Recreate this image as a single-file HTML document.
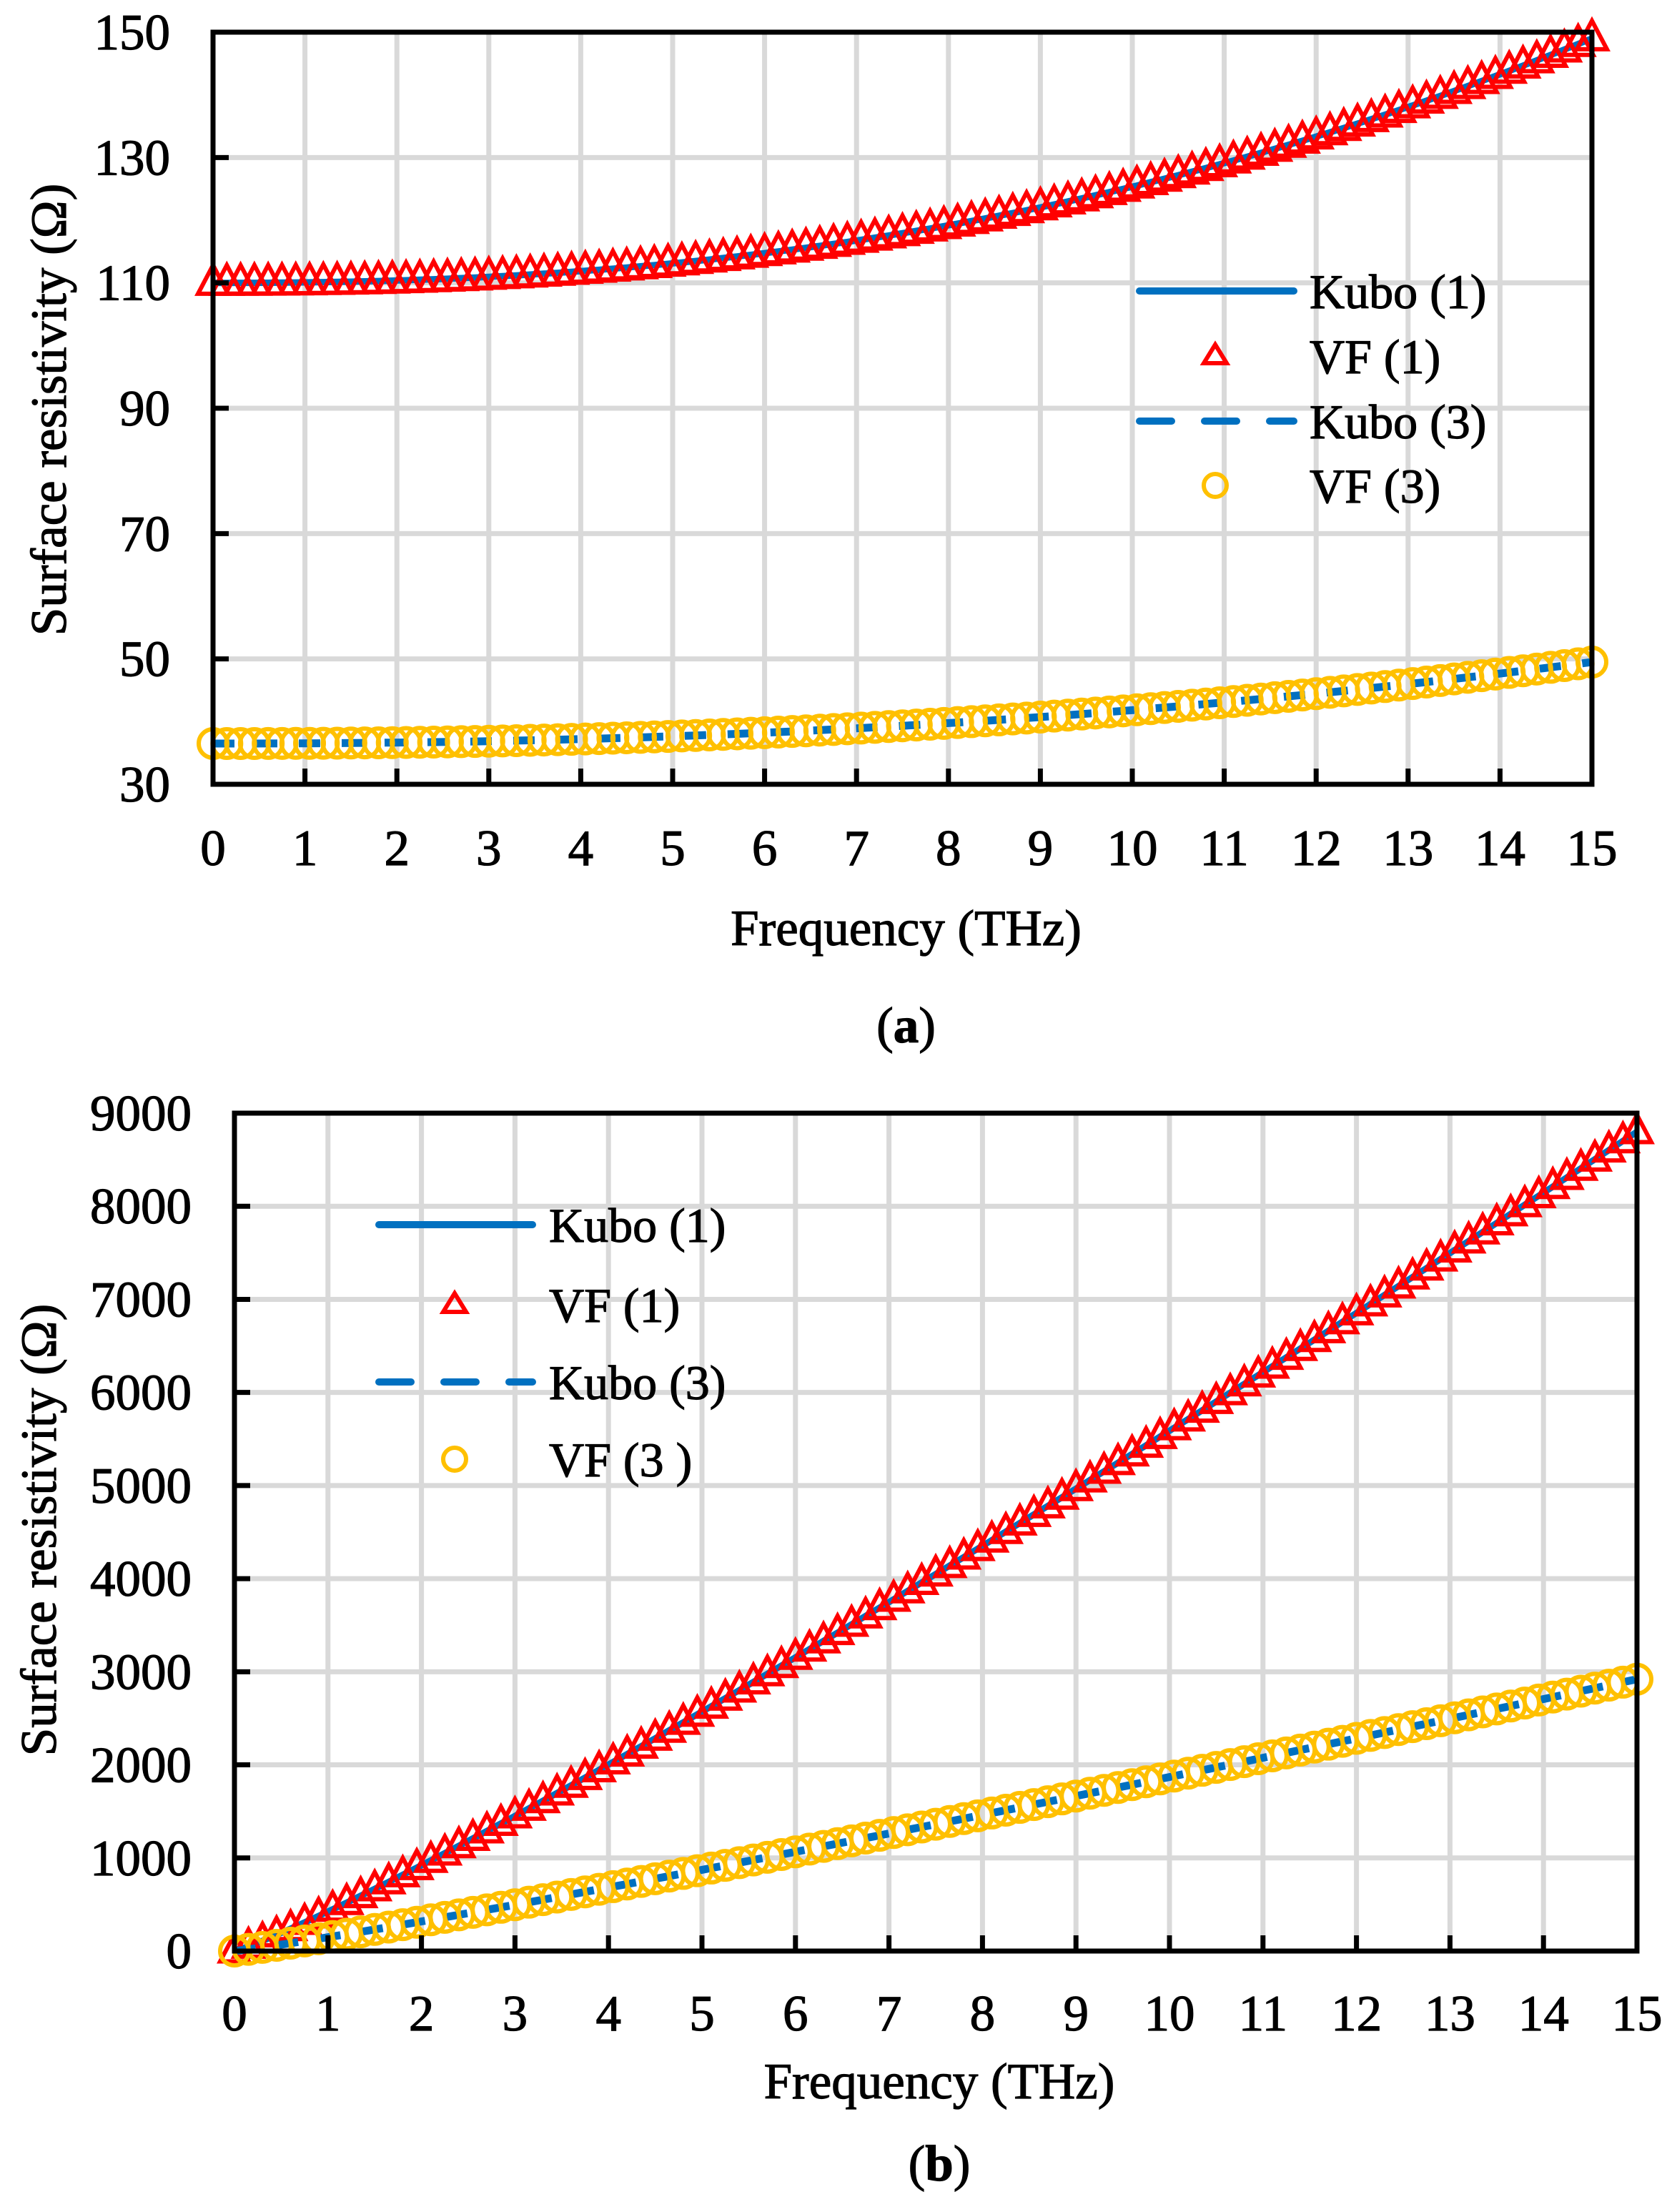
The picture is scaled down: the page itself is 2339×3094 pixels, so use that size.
<!DOCTYPE html>
<html><head><meta charset="utf-8"><style>
html,body{margin:0;padding:0;background:#fff;}
svg{display:block;}
text{font-family:"Liberation Serif","Times New Roman",serif;}
</style></head><body>
<svg id="s" width="2339" height="3094" xmlns="http://www.w3.org/2000/svg"></svg>
<script>
const S=document.getElementById('s');let h='';
const FF='style="font-family:\'Liberation Serif\',serif" stroke="#000" stroke-width="1.2"';
function chart(o){
 const {L,R,T,B,ymin,ymax,ystep,yl,xlabY,titleY,capY,cap,ytX,ytY,leg}=o;
 const X=f=>L+(R-L)*f/15, Y=v=>B-(B-T)*(v-ymin)/(ymax-ymin);
 for(let i=1;i<=15;i++) h+=`<line x1="${X(i)}" y1="${T}" x2="${X(i)}" y2="${B}" stroke="#D9D9D9" stroke-width="7"/>`;
 for(let v=ymin+ystep;v<ymax+1e-6;v+=ystep) h+=`<line x1="${L}" y1="${Y(v)}" x2="${R}" y2="${Y(v)}" stroke="#D9D9D9" stroke-width="7"/>`;
 o.series.forEach(s=>{
  let pts=[];for(let i=0;i<=100;i++){const f=i*0.15;pts.push([X(f),Y(s.fn(f))]);}
  const d='M'+pts.map(p=>p[0].toFixed(1)+','+p[1].toFixed(1)).join('L');
  if(s.type=='tri'){pts.forEach(p=>{const w=s.sz,hh=s.sz*0.95;h+=`<path d="M${p[0]},${p[1]-hh*0.62}L${p[0]+w/2},${p[1]+hh*0.38}L${p[0]-w/2},${p[1]+hh*0.38}Z" fill="none" stroke="#FF0000" stroke-width="6"/>`;});}
  if(s.type=='circ'){pts.forEach(p=>{h+=`<circle cx="${p[0]}" cy="${p[1]}" r="${s.sz}" fill="none" stroke="#FFC000" stroke-width="6"/>`;});}
  if(s.type=='solid') h+=`<path d="${d}" fill="none" stroke="#0070C0" stroke-width="9"/>`;
  if(s.type=='dash') h+=`<path d="${d}" fill="none" stroke="#0070C0" stroke-width="11" stroke-dasharray="30 30"/>`;
 });
 h+=`<rect x="${L}" y="${T}" width="${R-L}" height="${B-T}" fill="none" stroke="#000" stroke-width="7"/>`;
 for(let i=1;i<15;i++) h+=`<line x1="${X(i)}" y1="${B}" x2="${X(i)}" y2="${B-22}" stroke="#000" stroke-width="7"/>`;
 for(let v=ymin+ystep;v<ymax-1e-6;v+=ystep) h+=`<line x1="${L}" y1="${Y(v)}" x2="${L+22}" y2="${Y(v)}" stroke="#000" stroke-width="7"/>`;
 for(let v=ymin;v<=ymax+1e-6;v+=ystep) h+=`<text ${FF} x="${yl}" y="${Y(v)+24}" font-size="71" text-anchor="end">${v}</text>`;
 for(let i=0;i<=15;i++) h+=`<text ${FF} x="${X(i)}" y="${xlabY}" font-size="71" text-anchor="middle">${i}</text>`;
 h+=`<text ${FF} x="${(L+R)/2+5}" y="${titleY}" font-size="71" text-anchor="middle">Frequency (THz)</text>`;
 h+=`<text ${FF} x="${(L+R)/2+5}" y="${capY}" font-size="71" text-anchor="middle">(<tspan font-weight="bold">${cap}</tspan>)</text>`;
 h+=`<text ${FF} transform="translate(${ytX},${ytY}) rotate(-90)" font-size="71" text-anchor="middle">Surface resistivity (Ω)</text>`;
 const [lx1,lx2,mx,tx,rows]=leg;
 h+=`<line x1="${lx1}" y1="${rows[0]}" x2="${lx2}" y2="${rows[0]}" stroke="#0070C0" stroke-width="10" stroke-linecap="round"/>`;
 h+=`<path d="M${mx},${rows[1]-16}L${mx+16},${rows[1]+10}L${mx-16},${rows[1]+10}Z" fill="none" stroke="#FF0000" stroke-width="6"/>`;
 h+=`<line x1="${lx1}" y1="${rows[2]}" x2="${lx2}" y2="${rows[2]}" stroke="#0070C0" stroke-width="10" stroke-linecap="round" stroke-dasharray="45 46"/>`;
 h+=`<circle cx="${mx}" cy="${rows[3]}" r="16" fill="none" stroke="#FFC000" stroke-width="6"/>`;
 rows.forEach((r,i)=>{h+=`<text ${FF} x="${tx}" y="${r+24}" font-size="68">${o.labs[i]}</text>`;});
}
chart({L:298,R:2227,T:45,B:1097,ymin:30,ymax:150,ystep:20,yl:238,xlabY:1210,titleY:1322,capY:1458,cap:'a',ytX:92,ytY:573,
 leg:[1594,1810,1700,1832,[407,498,589,679]],labs:['Kubo (1)','VF (1)','Kubo (3)','VF (3)'],
 series:[
  {type:'solid',fn:f=>110+39*Math.pow(f/15,2.3)},
  {type:'tri',sz:42,fn:f=>110+39*Math.pow(f/15,2.3)},
  {type:'dash',fn:f=>36.5+13*Math.pow(f/15,2.2)},
  {type:'circ',sz:20,fn:f=>36.5+13*Math.pow(f/15,2.2)}]});
chart({L:328,R:2290,T:1557,B:2729,ymin:0,ymax:9000,ystep:1000,yl:268,xlabY:2840,titleY:2935,capY:3050,cap:'b',ytX:78,ytY:2140,
 leg:[530,745,636,768,[1713,1825,1933,2041]],labs:['Kubo (1)','VF (1)','Kubo (3)','VF (3 )'],
 series:[
  {type:'solid',fn:f=>8800*Math.pow(f/15,1.12)},
  {type:'tri',sz:40,fn:f=>8800*Math.pow(f/15,1.12)},
  {type:'dash',fn:f=>2920*Math.pow(f/15,1.1)},
  {type:'circ',sz:20,fn:f=>2920*Math.pow(f/15,1.1)}]});
S.innerHTML=h;
</script>
</body></html>
